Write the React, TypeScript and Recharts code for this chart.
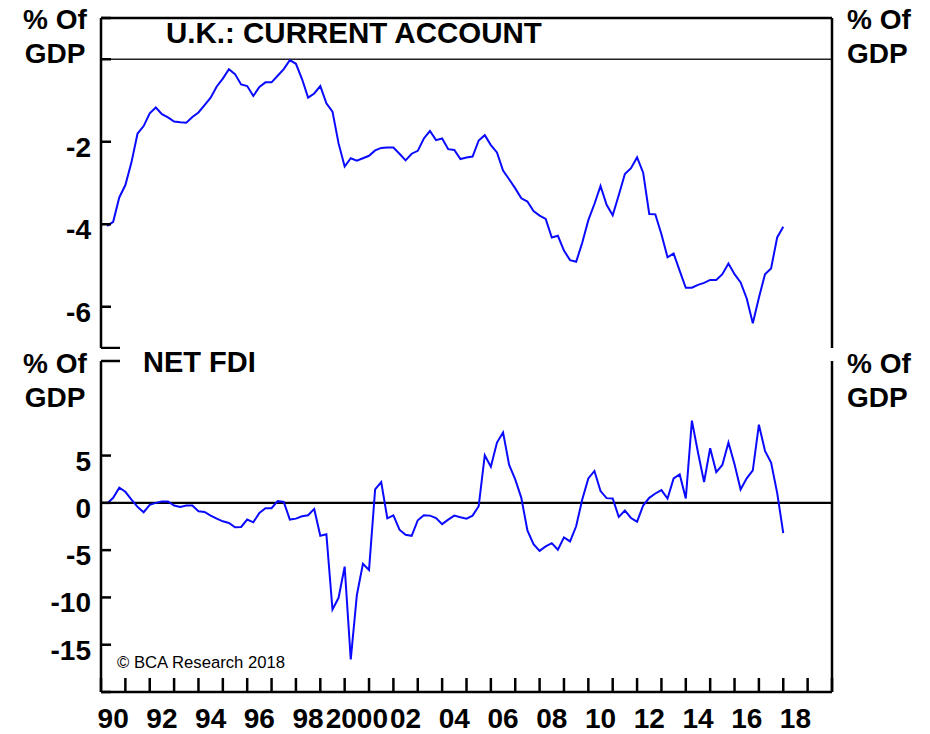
import React from "react";
import { LineChart, Line, XAxis, YAxis, ReferenceLine } from "recharts";

// ---------- DATA ----------
const START_YEAR = 1990.25; // first quarterly observation
const currentAccount: number[] = [
  -4.04, -3.94, -3.35, -3.05, -2.5, -1.8, -1.62, -1.31, -1.17, -1.33,
  -1.41, -1.51, -1.53, -1.54, -1.4, -1.29, -1.11, -0.93, -0.66, -0.47,
  -0.24, -0.36, -0.61, -0.65, -0.89, -0.67, -0.56, -0.56, -0.4, -0.24,
  -0.02, -0.11, -0.48, -0.93, -0.83, -0.65, -1.07, -1.27, -2.04, -2.6,
  -2.4, -2.46, -2.4, -2.34, -2.21, -2.15, -2.14, -2.14, -2.29, -2.45,
  -2.29, -2.22, -1.92, -1.74, -1.96, -1.92, -2.18, -2.2, -2.42, -2.38,
  -2.36, -1.97, -1.84, -2.08, -2.26, -2.7, -2.91, -3.13, -3.37, -3.45,
  -3.68, -3.79, -3.87, -4.32, -4.28, -4.64, -4.87, -4.91, -4.45, -3.9,
  -3.51, -3.07, -3.53, -3.78, -3.29, -2.78, -2.64, -2.38, -2.75, -3.75,
  -3.76, -4.24, -4.8, -4.71, -5.13, -5.54, -5.54, -5.47, -5.42, -5.35,
  -5.35, -5.21, -4.95, -5.21, -5.41, -5.8, -6.4, -5.78, -5.21, -5.07,
  -4.32, -4.06,
];
const netFdi: number[] = [
  -0.07, 0.53, 1.6, 1.17, 0.35, -0.43, -0.99, -0.21, 0.0, 0.14,
  0.14, -0.28, -0.43, -0.28, -0.28, -0.89, -0.96, -1.35, -1.67, -1.95,
  -2.13, -2.59, -2.55, -1.77, -2.06, -1.06, -0.57, -0.57, 0.18, 0.11,
  -1.77, -1.67, -1.42, -1.31, -0.64, -3.48, -3.33, -11.28, -10.04, -6.74,
  -16.56, -9.75, -6.45, -7.09, 1.42, 2.2, -1.63, -1.31, -2.84, -3.37,
  -3.48, -1.84, -1.31, -1.35, -1.6, -2.25, -1.78, -1.35, -1.52, -1.67,
  -1.35, -0.35, 5.04, 3.83, 6.38, 7.45, 4.01, 2.48, 0.53, -2.91,
  -4.36, -5.07, -4.61, -4.26, -4.96, -3.65, -4.08, -2.48, 0.35, 2.59,
  3.37, 1.24, 0.5, 0.46, -1.49, -0.82, -1.6, -1.99, -0.28, 0.53,
  0.99, 1.35, 0.46, 2.59, 3.01, 0.46, 8.69, 5.32, 2.2, 5.78,
  3.26, 4.01, 6.38, 4.08, 1.42, 2.59, 3.44, 8.26, 5.5, 4.26,
  1.06, -3.19,
];
const yearTicks: number[] = [
  1990, 1991, 1992, 1993, 1994, 1995, 1996, 1997, 1998, 1999, 2000, 2001,
  2002, 2003, 2004, 2005, 2006, 2007, 2008, 2009, 2010, 2011, 2012, 2013,
  2014, 2015, 2016, 2017, 2018, 2019, 2020,
];
const yearLabels: number[] = [
  1990, 1992, 1994, 1996, 1998, 2000, 2002, 2004, 2006, 2008, 2010, 2012,
  2014, 2016, 2018,
];
const caTicks = [-7, -6, -4, -2, 0, 1];
const caLabels = [-6, -4, -2];
const fdiTicks = [-20, -15, -10, -5, 0, 5, 15];
const fdiLabels = [-15, -10, -5, 0, 5];

const rows = currentAccount.map((v, i) => ({
  t: START_YEAR + i * 0.25,
  ca: v,
  fdi: netFdi[i],
}));

// ---------- LAYOUT ----------
const W = 930;
const PLOT_LEFT = 101;
const PLOT_RIGHT = 832;
const LEFT_W = PLOT_LEFT;
const RIGHT_W = W - PLOT_RIGHT;
const BOTTOM_TOP = 349;
const BOTTOM_H = 385;
const X_AXIS_H = 42;
const LOCAL_PLOT_BOTTOM = BOTTOM_H - X_AXIS_H; // inside the lower chart's svg
const FONT = "Arial, 'Liberation Sans', Helvetica, sans-serif";
const BLUE = "#0a0aff";

const makeYTick =
  (side: "left" | "right", labels: number[], breaks: number[]) =>
  (props: any) => {
    const { y, payload } = props;
    const v = payload.value;
    const len = breaks.includes(v) ? 19 : 10;
    const x0 = side === "left" ? PLOT_LEFT : PLOT_RIGHT;
    const dir = side === "left" ? 1 : -1;
    return (
      <g>
        <line x1={x0} x2={x0 + dir * len} y1={y} y2={y} stroke="#000" strokeWidth={2.5} />
        {labels.includes(v) && (
          <text
            x={x0 - dir * 10}
            y={y + 15}
            textAnchor={side === "left" ? "end" : "start"}
            fontFamily={FONT}
            fontWeight="bold"
            fontSize={28}
            fill="#000"
          >
            {v}
          </text>
        )}
      </g>
    );
  };

const XTick = (props: any) => {
  const { x, payload } = props;
  const v: number = payload.value;
  if (Number.isInteger(v)) {
    return (
      <line
        x1={x}
        x2={x}
        y1={LOCAL_PLOT_BOTTOM}
        y2={LOCAL_PLOT_BOTTOM - 14}
        stroke="#000"
        strokeWidth={2.5}
      />
    );
  }
  const yr = Math.floor(v);
  const label = yr === 2000 ? "2000" : String(yr % 100).padStart(2, "0");
  return (
    <text
      x={x}
      y={LOCAL_PLOT_BOTTOM + 36}
      textAnchor="middle"
      fontFamily={FONT}
      fontWeight="bold"
      fontSize={28}
      fill="#000"
    >
      {label}
    </text>
  );
};

const xTickValues = [...yearTicks, ...yearLabels.map((y) => y + 0.5)].sort((a, b) => a - b);

const axisStyle = { stroke: "#000", strokeWidth: 2.5 };

export default function App() {
  const textStyle = { fontFamily: FONT, fontWeight: "bold" as const, fontSize: 28, fill: "#000" };
  return (
    <div style={{ position: "absolute", left: 0, top: 0, width: W, height: 734, background: "#fff" }}>
      <div style={{ position: "absolute", left: 0, top: 0 }}>
        <LineChart width={W} height={349} data={rows} margin={{ top: 18, right: 0, bottom: 1, left: 0 }}>
          <XAxis dataKey="t" type="number" domain={[1990, 2020]} hide allowDataOverflow />
          <YAxis
            yAxisId="left"
            orientation="left"
            width={LEFT_W}
            domain={[-7, 1]}
            ticks={caTicks}
            interval={0}
            axisLine={axisStyle}
            tickLine={false}
            tick={makeYTick("left", caLabels, [-7])}
          />
          <YAxis
            yAxisId="right"
            orientation="right"
            width={RIGHT_W}
            domain={[-7, 1]}
            ticks={caTicks}
            interval={0}
            axisLine={axisStyle}
            tickLine={false}
            tick={makeYTick("right", caLabels, [-7])}
          />
          <ReferenceLine yAxisId="left" y={1} stroke="#000" strokeWidth={2.5} />
          <ReferenceLine yAxisId="left" y={0} stroke="#222" strokeWidth={1.5} />
          <Line
            yAxisId="left"
            type="linear"
            dataKey="ca"
            stroke={BLUE}
            strokeWidth={2}
            dot={false}
            isAnimationActive={false}
          />
        </LineChart>
      </div>
      <div style={{ position: "absolute", left: 0, top: BOTTOM_TOP }}>
        <LineChart width={W} height={BOTTOM_H} data={rows} margin={{ top: 12, right: 0, bottom: 0, left: 0 }}>
          <XAxis
            dataKey="t"
            type="number"
            domain={[1990, 2020]}
            ticks={xTickValues}
            interval={0}
            height={X_AXIS_H}
            axisLine={axisStyle}
            tickLine={false}
            tick={XTick}
            allowDataOverflow
          />
          <YAxis
            yAxisId="left"
            orientation="left"
            width={LEFT_W}
            domain={[-20, 15]}
            ticks={fdiTicks}
            interval={0}
            axisLine={axisStyle}
            tickLine={false}
            tick={makeYTick("left", fdiLabels, [15])}
          />
          <YAxis
            yAxisId="right"
            orientation="right"
            width={RIGHT_W}
            domain={[-20, 15]}
            ticks={fdiTicks}
            interval={0}
            axisLine={axisStyle}
            tickLine={false}
            tick={makeYTick("right", fdiLabels, [15])}
          />
          <ReferenceLine yAxisId="left" y={0} stroke="#000" strokeWidth={2.2} />
          <Line
            yAxisId="left"
            type="linear"
            dataKey="fdi"
            stroke={BLUE}
            strokeWidth={2}
            dot={false}
            isAnimationActive={false}
          />
        </LineChart>
      </div>
      <svg
        width={W}
        height={734}
        style={{ position: "absolute", left: 0, top: 0, pointerEvents: "none" }}
      >
        <text x={55} y={29} textAnchor="middle" {...textStyle}>% Of</text>
        <text x={55} y={63} textAnchor="middle" {...textStyle}>GDP</text>
        <text x={847} y={29} textAnchor="start" {...textStyle}>% Of</text>
        <text x={847} y={63} textAnchor="start" {...textStyle}>GDP</text>
        <text x={55} y={373} textAnchor="middle" {...textStyle}>% Of</text>
        <text x={55} y={407} textAnchor="middle" {...textStyle}>GDP</text>
        <text x={847} y={373} textAnchor="start" {...textStyle}>% Of</text>
        <text x={847} y={407} textAnchor="start" {...textStyle}>GDP</text>
        <text x={166} y={43} textAnchor="start" {...textStyle} fontSize={29.5}>U.K.: CURRENT ACCOUNT</text>
        <text x={143} y={372} textAnchor="start" {...textStyle} fontSize={29}>NET FDI</text>
        <text x={117} y={668} fontFamily={FONT} fontSize={16.7} fill="#000">© BCA Research 2018</text>
      </svg>
    </div>
  );
}
